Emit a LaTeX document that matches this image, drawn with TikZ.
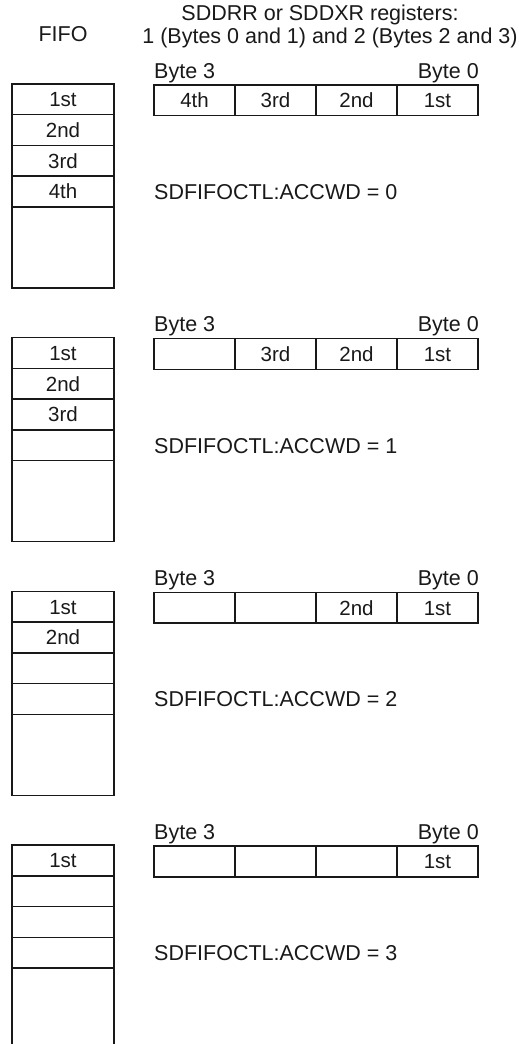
\documentclass[tikz,border=0pt]{standalone}
\usepackage{fontspec}
\setmainfont{Liberation Sans}
\begin{document}
\begin{tikzpicture}[x=1pt,y=-1pt,
  line/.style={line width=1.4pt, draw=black!90},
  lbl/.style={font=\fontsize{21.5}{24}\selectfont, inner sep=0pt, text=black!90},
  cell/.style={line, minimum width=81pt, minimum height=30.7pt, inner sep=0pt, outer sep=0pt, text height=15pt, text depth=0pt, font=\fontsize{20.5}{22}\selectfont, text=black!90},
  frow/.style={line, minimum width=102pt, minimum height=30.7pt, inner sep=0pt, outer sep=0pt, text height=15pt, text depth=0pt, font=\fontsize{20.5}{22}\selectfont, text=black!90}]
\useasboundingbox (0,0) rectangle (519,1044);
\begin{scope}
\clip (0,0) rectangle (519,1044);
\node[lbl] (fifo) at (63,34) {FIFO};
\node[lbl] (t1) at (320,15) {SDDRR or SDDXR registers:};
\node[lbl] (t2) at (330,38) {1 (Bytes 0 and 1) and 2 (Bytes 2 and 3)};
\foreach \g/\a/\b/\c/\d/\n/\ra/\rb/\rc in {0/1st/2nd/3rd/4th/0/4th/3rd/2nd, 1/1st/2nd/3rd//1//3rd/2nd, 2/1st/2nd///2///2nd, 3/1st////3///}{
  \pgfmathsetmacro{\t}{84+253.7*\g}
  % FIFO
  \node[frow, anchor=north west] (f\g a) at (12,\t) {\a};
  \node[frow, anchor=north] (f\g b) at (f\g a.south) {\b};
  \node[frow, anchor=north] (f\g c) at (f\g b.south) {\c};
  \node[frow, anchor=north] (f\g d) at (f\g c.south) {\d};
  \node[line, minimum width=102pt, minimum height=81pt, inner sep=0pt, outer sep=0pt, anchor=north] (f\g e) at (f\g d.south) {};
  % labels
  \node[lbl, anchor=west] (b3\g) at (154,\t-11) {Byte 3};
  \node[lbl, anchor=east] (b0\g) at (479,\t-11) {Byte 0};
  \node[lbl, anchor=west] (acc\g) at (154,\t+108) {SDFIFOCTL:ACCWD = \n};
  % register
  \node[cell, anchor=north west] (r\g a) at (154,\t+1) {\ra};
  \node[cell, anchor=west] (r\g b) at (r\g a.east) {\rb};
  \node[cell, anchor=west] (r\g c) at (r\g b.east) {\rc};
  \node[cell, anchor=west] (r\g d) at (r\g c.east) {1st};
}
\end{scope}
\end{tikzpicture}
\end{document}
